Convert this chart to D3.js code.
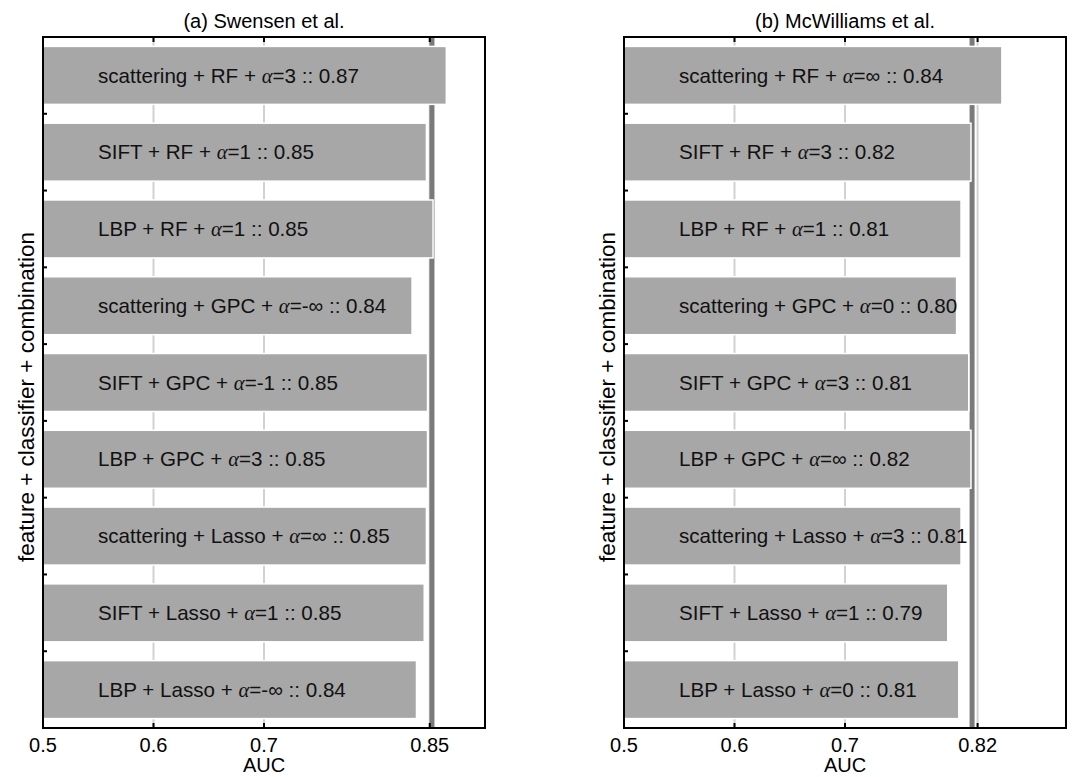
<!DOCTYPE html>
<html>
<head>
<meta charset="utf-8">
<script src="https://cdn.jsdelivr.net/npm/d3@7"></script>
<style>
  body { margin: 0; background: #fff; }
  text { font-family: "Liberation Sans", Arial, sans-serif; }
</style>
</head>
<body>
<div id="chart"></div>
<script>
// panel (a) Swensen et al.
var leftFeatures = ["scattering", "SIFT", "LBP", "scattering", "SIFT", "LBP", "scattering", "SIFT", "LBP"];
var leftClassifiers = ["RF", "RF", "RF", "GPC", "GPC", "GPC", "Lasso", "Lasso", "Lasso"];
var leftAlphas = ["3", "1", "1", "-\u221e", "-1", "3", "\u221e", "1", "-\u221e"];
var leftScores = ["0.87", "0.85", "0.85", "0.84", "0.85", "0.85", "0.85", "0.85", "0.84"];
var leftValues = [0.865, 0.847, 0.853, 0.834, 0.848, 0.848, 0.847, 0.845, 0.838];
var leftTicks = [0.5, 0.6, 0.7, 0.85];
var leftRef = 0.852;

// panel (b) McWilliams et al.
var rightFeatures = ["scattering", "SIFT", "LBP", "scattering", "SIFT", "LBP", "scattering", "SIFT", "LBP"];
var rightClassifiers = ["RF", "RF", "RF", "GPC", "GPC", "GPC", "Lasso", "Lasso", "Lasso"];
var rightAlphas = ["\u221e", "3", "1", "0", "3", "\u221e", "3", "1", "0"];
var rightScores = ["0.84", "0.82", "0.81", "0.80", "0.81", "0.82", "0.81", "0.79", "0.81"];
var rightValues = [0.842, 0.814, 0.805, 0.801, 0.812, 0.814, 0.805, 0.793, 0.803];
var rightTicks = [0.5, 0.6, 0.7, 0.82];
var rightRef = 0.815;

var width = 1072, height = 777;
var plotTop = 37, plotBottom = 728, panelW = 442;

var svg = d3.select("#chart")
    .append("svg")
    .attr("width", width)
    .attr("height", height);

function drawPanel(left, title, features, classifiers, alphas, scores, values, ticks, ref) {
    var rows = values.map(function(v, i) {
        return {i: i, feature: features[i], classifier: classifiers[i], alpha: alphas[i], score: scores[i], value: v};
    });

    var x = d3.scaleLinear().domain([0.5, 0.9]).range([left, left + panelW]);
    var y = d3.scaleBand()
        .domain(d3.range(values.length))
        .range([plotTop, plotBottom])
        .paddingInner(0.245)
        .paddingOuter(0.1225);

    var g = svg.append("g");

    // light grid lines at the ticks
    g.selectAll(".grid")
        .data(ticks.slice(1))
        .enter()
        .append("line")
        .attr("x1", function(d) { return x(d); })
        .attr("x2", function(d) { return x(d); })
        .attr("y1", plotTop)
        .attr("y2", plotBottom)
        .attr("stroke", "#d2d2d2")
        .attr("stroke-width", 2);

    // reference line
    g.append("line")
        .attr("x1", x(ref)).attr("x2", x(ref))
        .attr("y1", plotTop).attr("y2", plotBottom)
        .attr("stroke", "#7a7a7a")
        .attr("stroke-width", 5);

    var bar = g.selectAll(".bar")
        .data(rows)
        .enter()
        .append("g")
        .attr("class", "bar");

    bar.append("rect")
        .attr("x", x(0.5))
        .attr("y", function(d) { return y(d.i); })
        .attr("width", function(d) { return x(d.value) - x(0.5); })
        .attr("height", y.bandwidth())
        .attr("fill", "#a7a7a7")
        .attr("stroke", "#fff")
        .attr("stroke-width", 1.5);

    var label = bar.append("text")
        .attr("x", left + 55)
        .attr("y", function(d) { return y(d.i) + y.bandwidth() / 2; })
        .attr("dy", "0.35em")
        .attr("font-size", 20.6)
        .attr("fill", "#111");
    label.append("tspan").text(function(d) { return d.feature + " + " + d.classifier + " + "; });
    label.append("tspan")
        .style("font-family", "'Liberation Serif', serif")
        .style("font-style", "italic")
        .text("\u03b1");
    label.append("tspan").text(function(d) { return "=" + d.alpha + " :: " + d.score; });

    // frame
    g.append("rect")
        .attr("x", left).attr("y", plotTop)
        .attr("width", panelW).attr("height", plotBottom - plotTop)
        .attr("fill", "none")
        .attr("stroke", "#000")
        .attr("stroke-width", 2);

    // inward ticks, top and bottom
    ticks.slice(1).forEach(function(t) {
        [[plotTop, plotTop + 5], [plotBottom, plotBottom - 5]].forEach(function(p) {
            g.append("line")
                .attr("x1", x(t)).attr("x2", x(t))
                .attr("y1", p[0]).attr("y2", p[1])
                .attr("stroke", "#000")
                .attr("stroke-width", 2);
        });
    });

    // y ticks between bars
    d3.range(1, values.length).forEach(function(k) {
        var yy = plotTop + k * y.step();
        g.append("line")
            .attr("x1", left).attr("x2", left + 4)
            .attr("y1", yy).attr("y2", yy)
            .attr("stroke", "#000")
            .attr("stroke-width", 2);
    });

    g.selectAll(".tick-label")
        .data(ticks)
        .enter()
        .append("text")
        .attr("x", function(d) { return x(d); })
        .attr("y", 752)
        .attr("text-anchor", "middle")
        .attr("font-size", 20)
        .text(function(d) { return d; });

    g.append("text")
        .attr("x", left + panelW / 2)
        .attr("y", 772)
        .attr("text-anchor", "middle")
        .attr("font-size", 20)
        .text("AUC");

    g.append("text")
        .attr("x", left + panelW / 2)
        .attr("y", 28)
        .attr("text-anchor", "middle")
        .attr("font-size", 20)
        .text(title);

    g.append("text")
        .attr("transform", "translate(" + (left - 9) + "," + 397 + ") rotate(-90)")
        .attr("text-anchor", "middle")
        .attr("font-size", 22.5)
        .text("feature + classifier + combination");
}

drawPanel(43, "(a) Swensen et al.", leftFeatures, leftClassifiers, leftAlphas, leftScores, leftValues, leftTicks, leftRef);
drawPanel(624, "(b) McWilliams et al.", rightFeatures, rightClassifiers, rightAlphas, rightScores, rightValues, rightTicks, rightRef);
</script>
</body>
</html>
